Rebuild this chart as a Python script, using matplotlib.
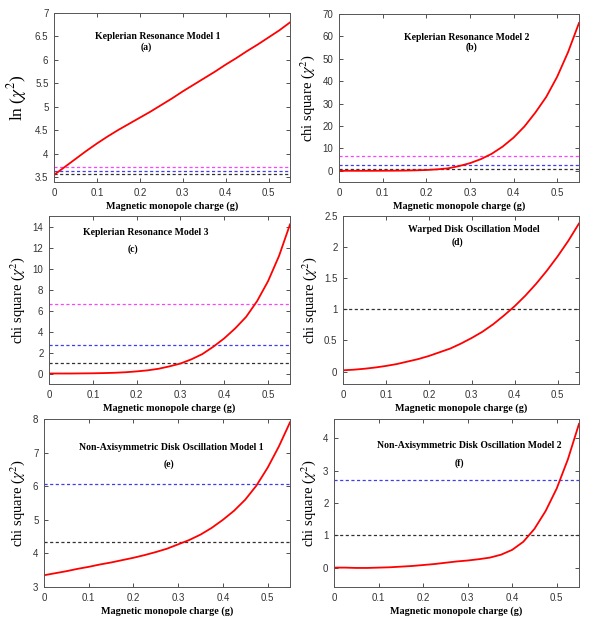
import numpy as np
import matplotlib
matplotlib.use("Agg")
import matplotlib.pyplot as plt

plt.rcParams['font.family'] = ['Liberation Sans', 'DejaVu Sans']
plt.rcParams['mathtext.fontset'] = 'stix'

W, H = 608, 617

# data, g from 0 to 0.55 in steps of 0.025
g = [0.0, 0.025, 0.05, 0.075, 0.1, 0.125, 0.15, 0.175, 0.2, 0.225, 0.25, 0.275,
     0.3, 0.325, 0.35, 0.375, 0.4, 0.425, 0.45, 0.475, 0.5, 0.525, 0.55]

chi_a = [3.55, 3.72, 3.89, 4.06, 4.22, 4.37, 4.51, 4.64, 4.77, 4.90, 5.04, 5.18,
         5.33, 5.47, 5.61, 5.75, 5.90, 6.04, 6.19, 6.33, 6.48, 6.63, 6.80]
chi_b = [0.0, 0.0, 0.0, 0.0, 0.02, 0.05, 0.1, 0.2, 0.35, 0.65, 1.1, 2.1,
         3.4, 5.2, 7.6, 10.8, 14.8, 19.8, 26.0, 33.0, 42.0, 53.0, 66.0]
chi_c = [0.0, 0.0, 0.0, 0.01, 0.02, 0.04, 0.07, 0.12, 0.2, 0.3, 0.45, 0.68,
         0.95, 1.35, 1.85, 2.55, 3.35, 4.3, 5.4, 6.9, 8.8, 11.2, 14.2]
chi_d = [0.02, 0.03, 0.045, 0.065, 0.09, 0.12, 0.16, 0.2, 0.25, 0.31, 0.37, 0.45,
         0.54, 0.64, 0.76, 0.9, 1.05, 1.22, 1.41, 1.62, 1.85, 2.1, 2.38]
chi_e = [3.35, 3.41, 3.47, 3.54, 3.60, 3.67, 3.73, 3.80, 3.87, 3.95, 4.04, 4.14,
         4.27, 4.40, 4.56, 4.76, 5.0, 5.27, 5.60, 6.02, 6.55, 7.18, 7.90]
chi_f = [0.0, 0.0, -0.01, -0.01, 0.0, 0.01, 0.03, 0.05, 0.08, 0.11, 0.15, 0.19,
         0.22, 0.26, 0.31, 0.40, 0.55, 0.80, 1.20, 1.75, 2.45, 3.35, 4.45]

lev_a = {'magenta': 3.724, 'blue': 3.624, 'black': 3.578}
lev_3 = {'magenta': 6.63, 'blue': 2.71, 'black': 1.0}
lev_d = {'black': 1.0}
lev_e = {'blue': 6.07, 'black': 4.35}
lev_f = {'blue': 2.71, 'black': 1.0}

colors = {'magenta': '#ff40ff', 'blue': '#3c3cf0', 'black': '#303030'}

titles = ["Keplerian Resonance Model 1", "Keplerian Resonance Model 2",
          "Keplerian Resonance Model 3", "Warped Disk Oscillation Model",
          "Non-Axisymmetric Disk Oscillation Model 1",
          "Non-Axisymmetric Disk Oscillation Model 2"]
tags = ["(a)", "(b)", "(c)", "(d)", "(e)", "(f)"]
ylabels = [r"ln ($\chi^2$)"] + [r"chi square ($\chi^2$)"] * 5
ylsize = [12.5, 10.5, 10.5, 10.5, 10.5, 10.5]

panels = [
    # left, right, top, bottom (px), ylim, yticks, data, levels, title xy, tag xy
    (54, 290, 13, 182, (3.4, 7.0), np.arange(3.5, 7.01, 0.5), chi_a, lev_a, (0.44, 0.86), (0.39, 0.80)),
    (339, 579, 14, 182, (-5, 70), np.arange(0, 71, 10), chi_b, lev_3, (0.533, 0.86), (0.554, 0.80)),
    (49, 290, 216, 384, (-1, 15), np.arange(0, 15, 2), chi_c, lev_3, (0.40, 0.90), (0.35, 0.80)),
    (343, 579, 216, 384, (-0.2, 2.5), np.arange(0, 2.51, 0.5), chi_d, lev_d, (0.555, 0.92), (0.483, 0.845)),
    (44, 290, 419, 587, (3, 8), np.arange(3, 8.1, 1), chi_e, lev_e, (0.516, 0.833), (0.508, 0.73)),
    (334, 579, 419, 587, (-0.6, 4.6), np.arange(0, 4.1, 1), chi_f, lev_f, (0.551, 0.845), (0.51, 0.738)),
]

fig = plt.figure(figsize=(W / 100, H / 100), dpi=100)

for i, (l, r, t, b, ylim, yt, y, lev, tpos, apos) in enumerate(panels):
    ax = fig.add_axes([l / W, 1 - b / H, (r - l) / W, (b - t) / H])
    for c, v in lev.items():
        ax.axhline(v, color=colors[c], lw=0.9, ls=(0, (2.5, 2)))
    ax.plot(g, y, color='red', lw=1.3)
    ax.set_xlim(0, 0.55)
    ax.set_ylim(*ylim)
    ax.set_xticks([0, 0.1, 0.2, 0.3, 0.4, 0.5])
    ax.set_xticklabels(['0', '0.1', '0.2', '0.3', '0.4', '0.5'])
    ax.set_yticks(yt)
    ax.set_yticklabels(['%g' % v for v in yt])
    ax.tick_params(direction='in', length=3, width=0.6, labelsize=7,
                   top=True, right=True, pad=4, colors='#333333')
    for s in ax.spines.values():
        s.set_linewidth(0.7)
        s.set_color('#555555')
    ax.set_xlabel("Magnetic monopole charge (g)", family='Liberation Serif',
                  fontweight='bold', fontsize=7.3, labelpad=3)
    ax.set_ylabel(ylabels[i], family='Liberation Serif', fontsize=ylsize[i], labelpad=4)
    ax.text(tpos[0], tpos[1], titles[i], transform=ax.transAxes, ha='center',
            va='center', family='Liberation Serif', fontweight='bold', fontsize=7)
    ax.text(apos[0], apos[1], tags[i], transform=ax.transAxes, ha='center',
            va='center', family='Liberation Serif', fontweight='bold', fontsize=7)

fig.savefig("out.png", dpi=100)
